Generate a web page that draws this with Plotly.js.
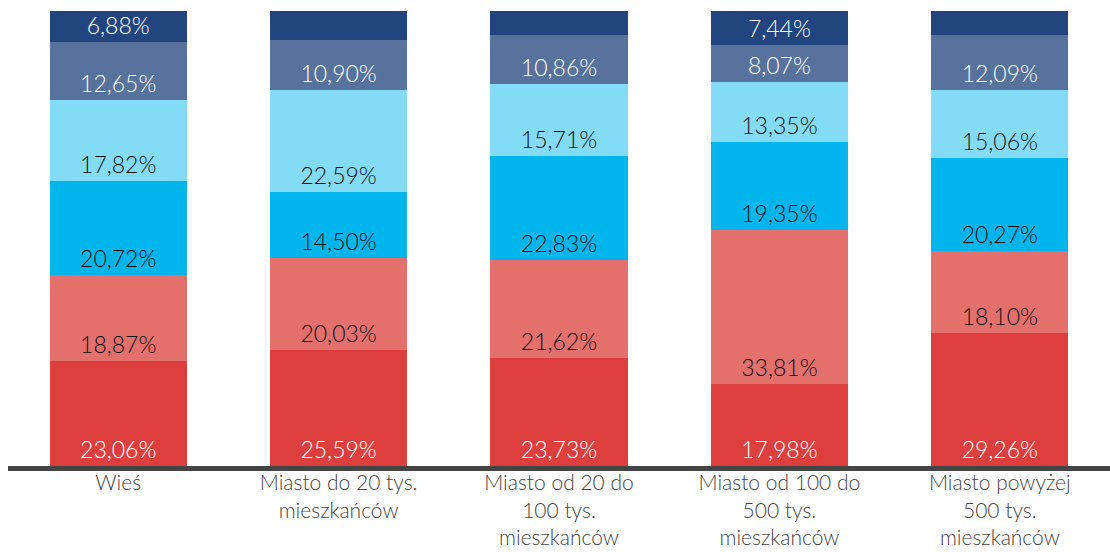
<!DOCTYPE html>
<html>
<head>
<meta charset="utf-8">
<script src="https://cdn.plot.ly/plotly-3.0.1.min.js"></script>
<style>
  html, body { margin: 0; padding: 0; background: #fff; }
  #chart { width: 1110px; height: 552px; }
</style>
</head>
<body>
<div id="chart"></div>
<script>
// categories (x axis)
const categories = [
  "Wieś",
  "Miasto do 20 tys.<br>mieszkańców",
  "Miasto od 20 do<br>100 tys.<br>mieszkańców",
  "Miasto od 100 do<br>500 tys.<br>mieszkańców",
  "Miasto powyżej<br>500 tys.<br>mieszkańców",
];

// series, bottom to top (percent)
const seg1 = [23.06, 25.59, 23.73, 17.98, 29.26];
const seg2 = [18.87, 20.03, 21.62, 33.81, 18.10];
const seg3 = [20.72, 14.50, 22.83, 19.35, 20.27];
const seg4 = [17.82, 22.59, 15.71, 13.35, 15.06];
const seg5 = [12.65, 10.90, 10.86, 8.07, 12.09];
const seg6 = [6.88, 6.39, 5.25, 7.44, 5.22];
// the top segment is labelled only on some bars
const seg6Shown = [true, false, false, true, false];

const colors = ["#dd3e3e", "#e4706d", "#00b5ec", "#84dbf5", "#57729c", "#22457f"];
const textColors = ["#ffffff", "#111111", "#111111", "#111111", "#ffffff", "#ffffff"];

function fmt(v) {
  return v.toFixed(2).replace(".", ",") + "%";
}

const series = [seg1, seg2, seg3, seg4, seg5, seg6];

const data = series.map((vals, i) => ({
  type: "bar",
  x: categories,
  y: vals,
  text: vals.map((v, j) => (i === 5 && !seg6Shown[j] ? "" : fmt(v))),
  textposition: "inside",
  insidetextanchor: "start",
  textangle: 0,
  constraintext: "none",
  textfont: { family: "Lato, 'Open Sans', sans-serif", size: 23, color: textColors[i], weight: 300 },
  marker: { color: colors[i], line: { width: 0 } },
  hoverinfo: "skip",
}));

const layout = {
  barmode: "stack",
  bargap: 0.378,
  width: 1110,
  height: 552,
  margin: { t: 11, r: 0, l: 8, b: 86 },
  paper_bgcolor: "#ffffff",
  plot_bgcolor: "#ffffff",
  showlegend: false,
  font: { family: "Lato, 'Open Sans', sans-serif" },
  xaxis: {
    type: "category",
    range: [-0.5, 4.5],
    showline: true,
    linecolor: "#444444",
    linewidth: 5,
    ticks: "",
    ticklabelstandoff: -6,
    showgrid: false,
    zeroline: false,
    tickfont: { family: "Lato, 'Open Sans', sans-serif", size: 21, color: "#444444", weight: 300 },
  },
  yaxis: {
    range: [0, 100],
    visible: false,
    showgrid: false,
    zeroline: false,
  },
};

Plotly.newPlot("chart", data, layout, { staticPlot: true, displayModeBar: false });
</script>
</body>
</html>
